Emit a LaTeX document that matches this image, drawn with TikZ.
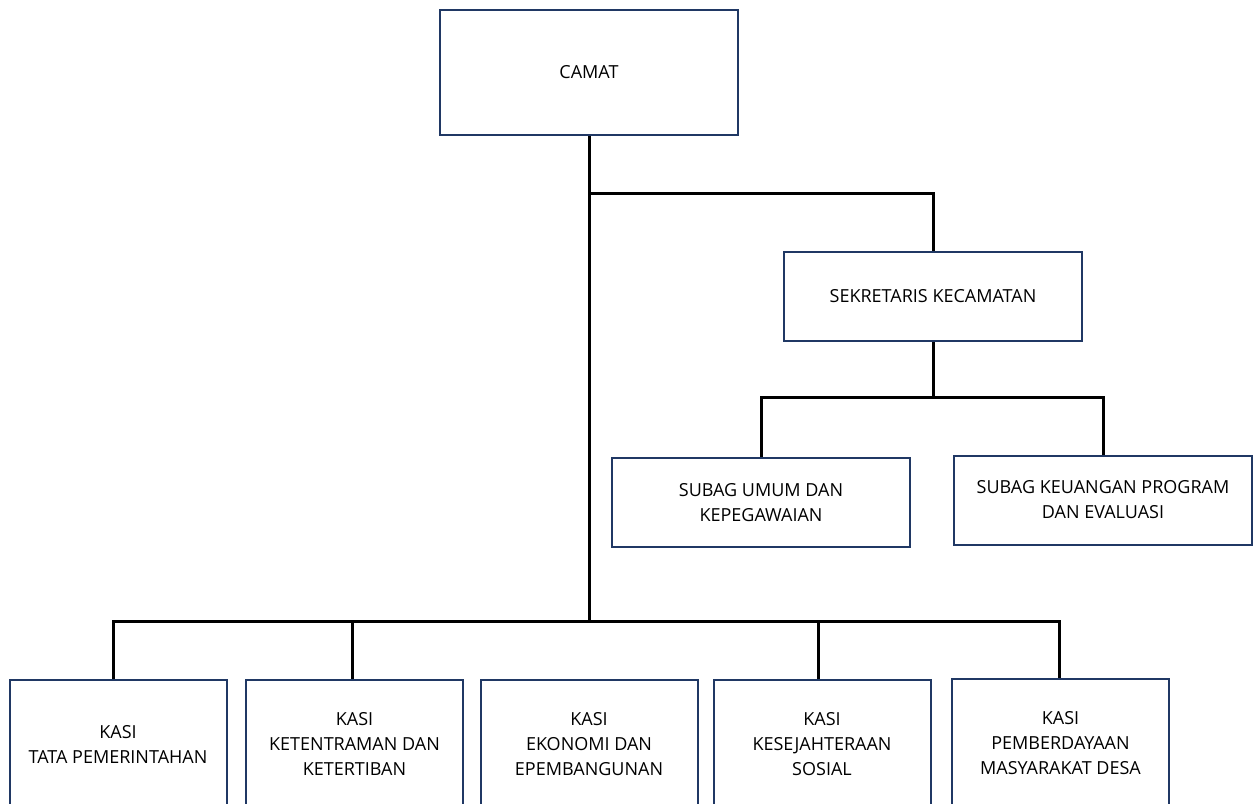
\documentclass[tikz,border=0pt]{standalone}
\usepackage{fontspec}
\setmainfont{Open Sans}
\usetikzlibrary{positioning}
\definecolor{boxblue}{RGB}{32,56,100}

\begin{document}
\begin{tikzpicture}[x=1pt, y=-1pt,
        box/.style = {draw=boxblue, line width=2pt, align=center, inner sep=0pt, fill=white,
                      font=\fontsize{18}{25}\selectfont},
        wide/.style = {box, minimum width=298pt, minimum height=89pt},
        kasi/.style = {box, minimum width=217pt, minimum height=128pt},
        conn/.style = {line width=3pt, black}]
                \useasboundingbox (0,0) rectangle (1258,803);
                \clip (0,0) rectangle (1258,803);
                % pimpinan dan sekretariat
                \node[box, minimum width=298pt, minimum height=125pt] (camat) at (589,72.5) {CAMAT};
                \node[wide] (sekcam) at (933,296.5) {SEKRETARIS KECAMATAN};
                \node[wide] (umum) at (761,502.5) {SUBAG UMUM DAN\\KEPEGAWAIAN};
                \node[wide] (keuangan) at (1103,500) {SUBAG KEUANGAN PROGRAM\\DAN EVALUASI};
                % seksi-seksi
                \node[kasi] (kasi1) at (118,744) {KASI\\TATA PEMERINTAHAN};
                \node[kasi] (kasi2) at (354.5,744) {KASI\\KETENTRAMAN DAN\\KETERTIBAN};
                \node[kasi] (kasi3) at (589,744) {KASI\\EKONOMI DAN\\EPEMBANGUNAN};
                \node[kasi] (kasi4) at (822,744) {KASI\\KESEJAHTERAAN\\SOSIAL};
                \node[kasi] (kasi5) at (1060.5,743) {KASI\\PEMBERDAYAAN\\MASYARAKAT DESA};
                % garis komando
                \coordinate (cabang) at (589,193);
                \coordinate (subbus) at (933,397);
                \coordinate (bus) at (589,621);
                \draw[conn] (camat.south) -- (bus);
                \draw[conn] (cabang) -| (sekcam.north);
                \draw[conn] (sekcam.south) -- (subbus);
                \draw[conn] (umum.north) |- (subbus) -| (keuangan.north);
                \draw[conn] ([xshift=-5pt]kasi1.north) |- (bus) -| ([xshift=-1.5pt]kasi5.north);
                \draw[conn] ([xshift=-2.5pt]kasi2.north) -- ([xshift=-2.5pt]kasi2.north |- bus);
                \draw[conn] ([xshift=-4pt]kasi4.north) -- ([xshift=-4pt]kasi4.north |- bus);
\end{tikzpicture}
\end{document}
